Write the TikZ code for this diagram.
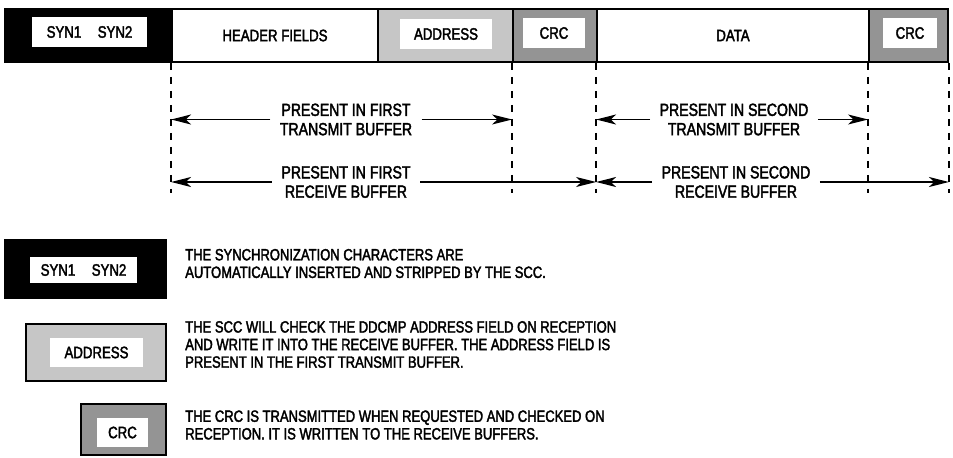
\documentclass[tikz,border=0pt]{standalone}
\usepackage{fontspec}
\setmainfont{Liberation Sans}[FakeStretch=0.80,FakeBold=2.2]
\usetikzlibrary{arrows.meta,calc}
\definecolor{addrgray}{RGB}{198,198,198}
\definecolor{crcgray}{RGB}{148,148,148}
\tikzset{
  wd/.style={minimum width=#1*0.75pt},
  ht/.style={minimum height=#1*0.75pt},
  field/.style={draw=black,line width=1.4pt,minimum height=39.75pt,inner sep=0pt,
                font=\fontsize{12.4}{14}\selectfont},
  tag/.style={fill=white,inner sep=0pt,font=\fontsize{12.4}{14}\selectfont},
  guide/.style={black,line width=1pt,dash pattern=on 5pt off 5.5pt},
  flow/.style={-{Stealth[length=15pt,width=7.5pt,inset=4pt]},line width=1.1pt},
  span/.style={align=center,inner sep=7pt,font=\fontsize{13.2}{14.5}\selectfont},
  note/.style={anchor=west,align=left,inner sep=0pt,font=\fontsize{12.2}{13.2}\selectfont},
}

\begin{document}
\begin{tikzpicture}[x=0.75pt,y=-0.75pt]
  \path[use as bounding box] (0,0) rectangle (953,457);

  \node[field,fill=black,wd=167] (syn) at (88.5,35.5) {};
  \node[tag,wd=115,ht=30] (synlab) at (89.5,32) {SYN1\quad SYN2};
  \node[field,wd=206] (hdr) at (275,35.5) {HEADER FIELDS};
  \node[field,fill=addrgray,wd=135] (addr) at (445.5,35.5) {};
  \node[tag,wd=92,ht=30] (addrlab) at (446,34) {ADDRESS};
  \node[field,fill=crcgray,wd=84] (crca) at (555,35.5) {};
  \node[tag,wd=62,ht=30] (crcalab) at (554,33) {CRC};
  \node[field,wd=272] (data) at (733,35.5) {DATA};
  \node[field,fill=crcgray,wd=79] (crcb) at (908.5,35.5) {};
  \node[tag,wd=54,ht=30] (crcblab) at (910,33) {CRC};

  \foreach \corner in {hdr.south west,crca.south west,data.south west,crcb.south west,crcb.south east}
    \draw[guide] (\corner) -- ++(0,130);

  \node[span] (txa) at (346,119.5) {PRESENT IN FIRST\\TRANSMIT BUFFER};
  \draw[flow] (txa.west) -- (txa.west -| hdr.south west);
  \draw[flow] (txa.east) -- (txa.east -| crca.south west);
  \node[span] (rxa) at (346,182) {PRESENT IN FIRST\\RECEIVE BUFFER};
  \draw[flow] (rxa.west) -- (rxa.west -| hdr.south west);
  \draw[flow] (rxa.east) -- (rxa.east -| data.south west);
  \node[span] (txb) at (734,119.5) {PRESENT IN SECOND\\TRANSMIT BUFFER};
  \draw[flow] (txb.west) -- (txb.west -| data.south west);
  \draw[flow] (txb.east) -- (txb.east -| crcb.south west);
  \node[span] (rxb) at (736,182) {PRESENT IN SECOND\\RECEIVE BUFFER};
  \draw[flow] (rxb.west) -- (rxb.west -| data.south west);
  \draw[flow] (rxb.east) -- (rxb.east -| crcb.south east);

  \node[field,fill=black,wd=161,ht=58] (synkey) at (85.5,269) {};
  \node[tag,wd=107,ht=26] (synkeylab) at (83.5,270) {SYN1\quad SYN2};
  \node[note] (synnote) at (185,263.5)
    {THE SYNCHRONIZATION CHARACTERS ARE\\AUTOMATICALLY INSERTED AND STRIPPED BY THE SCC.};

  \node[field,fill=addrgray,wd=140,ht=57] (addrkey) at (96,352.5) {};
  \node[tag,wd=93,ht=29] (addrkeylab) at (96.5,352.5) {ADDRESS};
  \node[note] (addrnote) at (185,344.5)
    {THE SCC WILL CHECK THE DDCMP ADDRESS FIELD ON RECEPTION\\
     AND WRITE IT INTO THE RECEIVE BUFFER. THE ADDRESS FIELD IS\\
     PRESENT IN THE FIRST TRANSMIT BUFFER.};

  \node[field,fill=crcgray,wd=85,ht=51] (crckey) at (123.5,429.5) {};
  \node[tag,wd=51,ht=29] (crckeylab) at (122.5,432.5) {CRC};
  \node[note] (crcnote) at (185,425)
    {THE CRC IS TRANSMITTED WHEN REQUESTED AND CHECKED ON\\
     RECEPTION. IT IS WRITTEN TO THE RECEIVE BUFFERS.};
\end{tikzpicture}
\end{document}
